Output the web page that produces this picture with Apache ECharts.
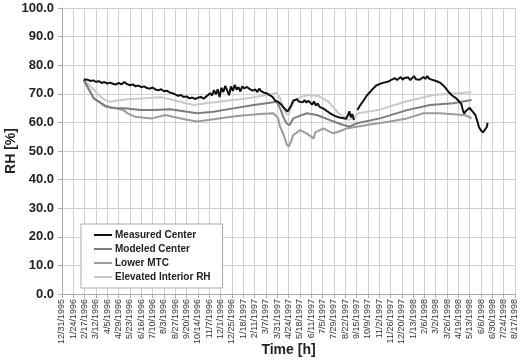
<!DOCTYPE html>
<html>
<head>
<meta charset="utf-8">
<script src="https://cdn.jsdelivr.net/npm/echarts@6/dist/echarts.min.js"></script>
<style>
  html, body { margin: 0; padding: 0; background: #fff; }
  #chart { width: 522px; height: 362px; }
</style>
</head>
<body>
<div id="chart"></div>
<script>
// tick labels, one every 24 days starting 12/31/1995
const tickLabels = ['12/31/1995', '1/24/1996', '2/17/1996', '3/12/1996', '4/5/1996', '4/29/1996', '5/23/1996',
  '6/16/1996', '7/10/1996', '8/3/1996', '8/27/1996', '9/20/1996', '10/14/1996', '11/7/1996', '12/1/1996',
  '12/25/1996', '1/18/1997', '2/11/1997', '3/7/1997', '3/31/1997', '4/24/1997', '5/18/1997', '6/11/1997',
  '7/5/1997', '7/29/1997', '8/22/1997', '9/15/1997', '10/9/1997', '11/2/1997', '11/26/1997', '12/20/1997',
  '1/13/1998', '2/6/1998', '3/2/1998', '3/26/1998', '4/19/1998', '5/13/1998', '6/6/1998', '6/30/1998',
  '7/24/1998', '8/17/1998']

const seriesNames = ['Measured Center', 'Modeled Center', 'Lower MTC', 'Elevated Interior RH']

// [day since 12/31/1995, RH %]
const measuredCenter = [[46,75.0],[50,74.6],[55,74.9],[60,74.5],[66,74.7],[72,74.2],[78,74.4],[84,73.8],[90,74.1],[96,73.6],
  [102,73.9],[108,73.5],[114,73.2],[120,73.8],[126,73.3],[132,74.1],[138,73.4],[144,73.0],[150,73.3],[156,72.6],
  [162,72.9],[168,72.3],[174,72.6],[180,72.0],[186,71.8],[192,72.2],[198,71.5],[204,71.2],[210,71.6],[216,70.9],
  [222,71.1],[228,70.5],[234,70.2],[240,69.8],[246,69.3],[252,69.6],[258,68.9],[264,69.1],[270,68.4],[276,68.7],
  [282,68.2],[288,68.6],[294,68.9],[300,68.3],[306,69.1],[310,68.5],[314,70.2],[318,69.4],[322,71.3],[326,69.8],
  [330,71.6],[334,68.9],[338,72.1],[342,70.6],[346,72.8],[350,71.2],[354,69.5],[358,72.6],[362,71.0],[366,73.1],
  [370,71.5],[374,72.3],[378,70.8],[382,72.6],[386,71.9],[392,72.4],[398,71.6],[404,71.1],[410,71.5],[414,70.6],
  [418,71.8],[422,70.9],[428,70.4],[434,70.2],[440,69.5],[446,68.9],[452,67.6],[458,67.2],[462,66.8],[466,66.0],
  [470,65.1],[474,64.5],[478,63.8],[482,64.2],[486,66.0],[490,67.6],[494,67.0],[498,68.1],[502,67.3],[506,67.9],
  [510,67.0],[514,67.8],[518,66.9],[522,67.6],[526,67.0],[530,66.2],[534,67.3],[538,65.9],[542,66.6],[546,65.4],
  [550,66.0],[554,64.8],[558,65.2],[562,63.9],[566,64.3],[570,63.0],[574,63.5],[578,62.3],[582,62.9],[586,61.8],
  [590,62.4],[594,61.5],[598,62.0],[602,61.3],[606,62.6],[609,63.9],[612,61.8],[615,62.9],[619,60.8],[622,null],
  [626,64.3],[630,65.5],[634,66.1],[638,67.4],[642,68.0],[646,69.4],[650,69.9],[654,70.8],[658,71.6],[662,72.0],
  [666,72.9],[670,72.6],[674,73.5],[678,73.1],[682,73.9],[686,73.6],[690,74.2],[694,73.8],[698,74.9],[702,74.3],
  [706,75.5],[710,74.8],[714,75.2],[718,75.9],[722,74.9],[726,75.6],[730,75.0],[734,75.7],[738,74.8],[742,75.4],
  [746,76.2],[750,75.1],[754,75.6],[758,74.9],[762,75.3],[766,75.9],[770,75.2],[774,76.2],[778,75.3],[782,75.7],
  [786,74.8],[790,75.2],[794,74.4],[798,74.6],[802,73.8],[806,73.4],[810,72.6],[814,71.8],[818,70.9],[822,70.2],
  [826,69.5],[830,68.9],[834,68.6],[838,68.0],[842,67.3],[846,66.5],[849,64.6],[852,63.1],[856,64.0],[860,64.6],
  [864,65.1],[868,64.2],[872,63.8],[876,62.6],[880,60.5],[884,58.2],[888,57.2],[892,56.5],[896,56.6],[900,58.3],
  [902,59.9]]

const modeledCenter = [[46,74.8],[67,68.4],[92,65.8],[102,65.3],[113,65.0],[138,64.9],[166,64.3],[194,64.3],[229,64.6],
  [265,63.7],[286,63.2],[321,63.7],[363,64.9],[406,66.1],[441,66.9],[455,67.2],[462,65.0],[470,61.5],[476,59.7],
  [482,59.0],[490,61.4],[519,63.2],[540,62.6],[568,60.8],[596,59.1],[610,58.6],[625,59.7],[674,61.4],[731,64.3],
  [780,66.1],[829,66.7],[868,67.8]]

const lowerMTC = [[46,74.8],[67,68.6],[92,65.5],[113,64.9],[130,64.3],[141,63.0],[155,62.0],[191,61.4],[219,62.6],
  [240,61.8],[265,60.9],[286,60.3],[321,61.1],[371,62.2],[420,62.9],[448,63.2],[458,61.5],[462,58.5],[470,55.5],
  [476,52.5],[480,51.5],[486,53.5],[490,55.6],[505,57.3],[520,56.0],[533,54.4],[537,56.5],[554,57.9],[568,56.7],
  [575,56.2],[590,57.0],[603,57.9],[646,59.1],[695,60.3],[731,61.4],[766,63.2],[800,63.2],[837,62.8],[855,62.5],
  [868,61.4]]

const elevatedRH = [[46,74.8],[53,73.7],[67,71.5],[81,69.0],[92,67.8],[102,67.2],[113,67.6],[138,68.1],[173,68.4],
  [208,68.8],[229,68.1],[265,66.6],[279,66.1],[314,66.9],[349,67.6],[392,68.4],[434,69.6],[448,70.0],[455,70.3],
  [462,68.5],[468,65.8],[474,63.2],[480,62.6],[486,65.5],[494,67.8],[508,69.0],[522,69.6],[544,69.2],[565,67.2],
  [586,63.2],[607,60.8],[616,61.5],[628,63.2],[670,64.3],[727,67.2],[787,69.6],[830,70.1],[868,70.5]]

const colors = ['#111111', '#7d7d7d', '#9c9c9c', '#c9c9c9']

const chart = echarts.init(document.getElementById('chart'))

const lineSeries = [measuredCenter, modeledCenter, lowerMTC, elevatedRH].map((d, i) => ({
  name: seriesNames[i],
  type: 'line',
  data: d,
  showSymbol: false,
  symbol: 'none',
  connectNulls: false,
  z: 10 - i,
  lineStyle: { color: colors[i], width: 2 },
  itemStyle: { color: colors[i] }
}))

const option = {
  animation: false,
  textStyle: { fontFamily: 'Liberation Sans, Arial, sans-serif' },
  grid: { left: 62, right: 7, top: 8, bottom: 68, outerBoundsMode: 'none' },
  legend: {
    orient: 'vertical',
    left: 81,
    top: 224,
    data: seriesNames,
    icon: 'rect',
    itemWidth: 18,
    itemHeight: 2,
    itemGap: 0,
    padding: [4, 12, 4, 13],
    backgroundColor: '#fff',
    borderColor: '#aaa',
    borderWidth: 1,
    textStyle: { fontSize: 10, fontWeight: 'bold', color: '#222', lineHeight: 14, padding: [0, 0, 0, -2] }
  },
  xAxis: {
    type: 'value',
    min: 0,
    max: 960,
    interval: 24,
    name: 'Time [h]',
    nameLocation: 'middle',
    nameGap: 49,
    nameMoveOverlap: false,
    nameTextStyle: { fontSize: 14, fontWeight: 'bold', color: '#222' },
    axisLine: { lineStyle: { color: '#aaa' } },
    axisTick: { show: true, length: 4, lineStyle: { color: '#aaa' } },
    splitLine: { show: true, lineStyle: { color: '#d0d0d0', width: 1 } },
    axisLabel: {
      rotate: 90,
      fontSize: 9,
      color: '#333',
      margin: 5,
      showMinLabel: true,
      showMaxLabel: true,
      formatter: v => tickLabels[Math.round(v / 24)] || ''
    }
  },
  yAxis: {
    type: 'value',
    min: 0,
    max: 100,
    interval: 10,
    name: 'RH [%]',
    nameLocation: 'middle',
    nameGap: 44,
    nameMoveOverlap: false,
    nameTextStyle: { fontSize: 14, fontWeight: 'bold', color: '#222' },
    axisLine: { show: true, lineStyle: { color: '#aaa' } },
    axisTick: { show: true, length: 4, lineStyle: { color: '#aaa' } },
    splitLine: { show: true, lineStyle: { color: '#d0d0d0', width: 1 } },
    axisLabel: {
      fontSize: 13,
      fontWeight: 'bold',
      color: '#222',
      margin: 8,
      formatter: v => v.toFixed(1)
    }
  },
  series: lineSeries
}

chart.setOption(option)
</script>
</body>
</html>
